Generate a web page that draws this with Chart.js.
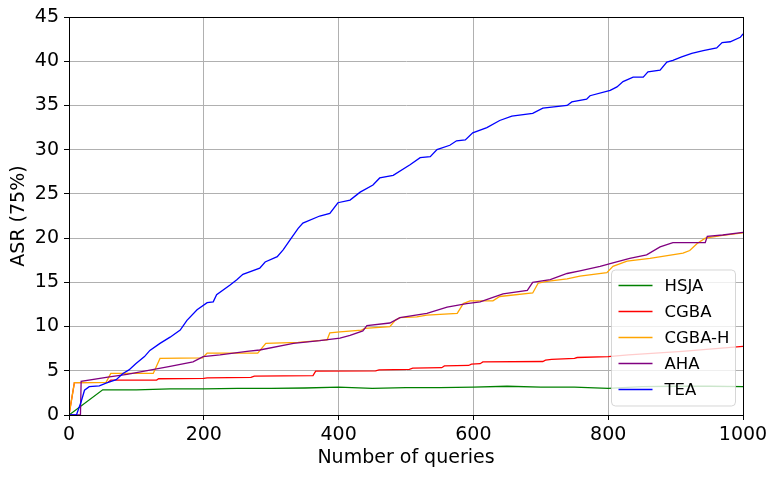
<!DOCTYPE html>
<html>
<head>
<meta charset="utf-8">
<script src="https://cdn.jsdelivr.net/npm/chart.js@4/dist/chart.umd.min.js"></script>
<style>
  html, body { margin: 0; padding: 0; background: #fff; }
  canvas { display: block; }
</style>
</head>
<body>
<canvas id="asrChart" width="777" height="478"></canvas>
<script>
// [queries, ASR %]
const HSJA = [[0, 0], [50, 2.85], [100, 2.85], [150, 2.95], [200, 2.95], [250, 3.0], [300, 3.0], [350, 3.05],
  [400, 3.15], [450, 3.0], [500, 3.1], [550, 3.1], [600, 3.15], [650, 3.25], [700, 3.15], [750, 3.15],
  [800, 3.0], [850, 3.2], [900, 3.25], [950, 3.25], [1000, 3.2]];

const CGBA = [[0, 0], [8, 3.65], [58, 3.7], [62, 3.95], [130, 3.95], [133, 4.1], [200, 4.15], [205, 4.2],
  [270, 4.25], [275, 4.4], [362, 4.45], [366, 4.95], [455, 5.0], [460, 5.1], [505, 5.15], [510, 5.3],
  [553, 5.35], [557, 5.55], [593, 5.6], [597, 5.75], [610, 5.8], [614, 6.0], [703, 6.05], [707, 6.2],
  [716, 6.3], [750, 6.4], [754, 6.5], [800, 6.6], [830, 6.8], [870, 7.0], [910, 7.2], [950, 7.45], [1000, 7.75]];

const CGBA_H = [[0, 0], [8, 3.65], [55, 3.7], [62, 4.7], [125, 4.7], [135, 6.4], [198, 6.45], [205, 7.0],
  [280, 7.0], [292, 8.1], [340, 8.2], [383, 8.5], [387, 9.3], [402, 9.4], [434, 9.6], [439, 9.8],
  [476, 10.0], [484, 10.7], [491, 11.0], [516, 11.1], [531, 11.3], [576, 11.5], [585, 12.6], [595, 12.9],
  [629, 12.9], [639, 13.4], [688, 13.8], [696, 14.9], [709, 15.1], [739, 15.4], [758, 15.7], [798, 16.1],
  [807, 16.8], [828, 17.4], [862, 17.7], [911, 18.3], [921, 18.6], [932, 19.4], [944, 20.0], [970, 20.3],
  [1000, 20.6]];

const AHA = [[0, 0], [17, 0], [18, 3.8], [60, 4.3], [86, 4.6], [114, 5.0], [150, 5.5], [184, 6.0],
  [199, 6.6], [224, 6.8], [264, 7.2], [283, 7.35], [333, 8.1], [372, 8.4], [402, 8.7], [417, 9.0],
  [436, 9.5], [442, 10.1], [476, 10.4], [491, 11.0], [531, 11.5], [561, 12.2], [590, 12.6], [610, 12.8],
  [629, 13.3], [644, 13.7], [680, 14.1], [688, 15.0], [714, 15.3], [739, 16.0], [758, 16.3], [788, 16.8],
  [807, 17.2], [832, 17.7], [857, 18.1], [877, 19.0], [896, 19.5], [944, 19.5], [947, 20.2], [970, 20.35],
  [1000, 20.65]];

const TEA = [[0, 0], [11, 0], [18, 1.5], [23, 2.8], [30, 3.2], [45, 3.3], [55, 3.6], [70, 4.0], [80, 4.7],
  [89, 5.1], [99, 5.8], [112, 6.6], [120, 7.3], [135, 8.1], [150, 8.8], [165, 9.6], [175, 10.7], [190, 11.9],
  [205, 12.7], [214, 12.8], [219, 13.6], [239, 14.7], [249, 15.3], [258, 15.9], [283, 16.6], [291, 17.3],
  [309, 17.9], [318, 18.7], [328, 19.8], [340, 21.1], [347, 21.7], [372, 22.5], [387, 22.8], [399, 24.0],
  [417, 24.3], [432, 25.2], [451, 26.0], [461, 26.8], [481, 27.1], [506, 28.3], [521, 29.1], [536, 29.2],
  [546, 30.0], [565, 30.5], [575, 31.0], [588, 31.1], [599, 31.9], [620, 32.5], [639, 33.3], [657, 33.8],
  [688, 34.1], [703, 34.7], [739, 35.0], [746, 35.4], [768, 35.7], [773, 36.1], [803, 36.7], [813, 37.1],
  [822, 37.7], [837, 38.2], [852, 38.2], [859, 38.8], [877, 39.0], [887, 39.9], [896, 40.1], [909, 40.5],
  [924, 40.9], [941, 41.2], [961, 41.5], [969, 42.1], [981, 42.2], [996, 42.7], [1000, 43.1]];

const SERIES = [
  { label: 'HSJA', points: HSJA, color: 'green' },
  { label: 'CGBA', points: CGBA, color: 'red' },
  { label: 'CGBA-H', points: CGBA_H, color: 'orange' },
  { label: 'AHA', points: AHA, color: 'purple' },
  { label: 'TEA', points: TEA, color: 'blue' }
];

const FONT = 'DejaVu Sans';

// matplotlib style: full box around the axes plus a legend inside, lower right
const boxAndLegend = {
  id: 'boxAndLegend',
  afterDatasetsDraw(chart) {
    const { ctx, chartArea: a } = chart;
    ctx.save();
    ctx.strokeStyle = '#000';
    ctx.lineWidth = 1;
    ctx.strokeRect(Math.round(a.left) + 0.5, Math.round(a.top) + 0.5,
      Math.round(a.right - a.left), Math.round(a.bottom - a.top));

    const w = 124, rowH = 26, h = SERIES.length * rowH + 6;
    const x = a.right - 7.5 - w, y = a.bottom - 9 - h;
    ctx.beginPath();
    ctx.roundRect(x, y, w, h, 4);
    ctx.fillStyle = 'rgba(255,255,255,0.8)';
    ctx.fill();
    ctx.strokeStyle = 'rgba(204,204,204,0.8)';
    ctx.stroke();

    ctx.font = `16.5px "${FONT}"`;
    ctx.textBaseline = 'middle';
    ctx.textAlign = 'left';
    SERIES.forEach((s, i) => {
      const cy = y + 15.5 + i * rowH;
      ctx.beginPath();
      ctx.moveTo(x + 7, cy);
      ctx.lineTo(x + 41, cy);
      ctx.strokeStyle = s.color;
      ctx.lineWidth = 1.3;
      ctx.stroke();
      ctx.fillStyle = '#000';
      ctx.fillText(s.label, x + 53, cy + 1);
    });
    ctx.restore();
  }
};

new Chart(document.getElementById('asrChart'), {
  type: 'line',
  data: {
    datasets: SERIES.map((s, i) => ({
      label: s.label,
      data: s.points.map(([x, y]) => ({ x, y })),
      borderColor: s.color,
      backgroundColor: s.color,
      borderWidth: 1.3,
      pointRadius: 0,
      tension: 0,
      fill: false,
      order: SERIES.length - i
    }))
  },
  options: {
    responsive: false,
    animation: false,
    layout: { padding: { top: 17, right: 34, left: 0, bottom: 0 } },
    plugins: {
      legend: { display: false },
      tooltip: { enabled: false }
    },
    scales: {
      x: {
        type: 'linear',
        min: 0,
        max: 1000,
        ticks: {
          stepSize: 200,
          color: '#000',
          padding: 4,
          font: { family: FONT, size: 19 },
          callback: (v) => String(v)
        },
        grid: { color: '#b0b0b0', tickColor: '#000', tickLength: 5 },
        border: { color: '#000' },
        title: {
          display: true,
          text: 'Number of queries',
          color: '#000',
          font: { family: FONT, size: 19 },
          padding: { top: 0, bottom: 9 }
        },
        afterFit: (scale) => { scale.height = 63; }
      },
      y: {
        min: 0,
        max: 45,
        ticks: {
          stepSize: 5,
          color: '#000',
          padding: 5,
          font: { family: FONT, size: 19 },
          callback: (v) => String(v)
        },
        grid: { color: '#b0b0b0', tickColor: '#000', tickLength: 5 },
        border: { color: '#000' },
        title: {
          display: true,
          text: 'ASR (75%)',
          color: '#000',
          font: { family: FONT, size: 19 },
          padding: { top: 8, bottom: 0 }
        },
        afterFit: (scale) => { scale.width = 69; }
      }
    }
  },
  plugins: [boxAndLegend]
});
</script>
</body>
</html>
